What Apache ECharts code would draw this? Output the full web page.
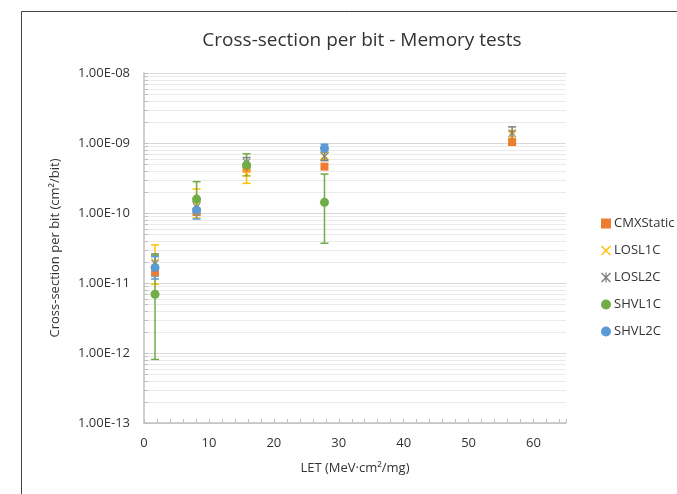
<!DOCTYPE html>
<html lang="en">
<head>
    <meta charset="UTF-8">
    <title>Cross-section per bit - Memory tests</title>
    <script src="https://cdn.jsdelivr.net/npm/echarts@6/dist/echarts.min.js"></script>
    <style>
        html, body { margin: 0; padding: 0; background: #fff; }
        #main { width: 677px; height: 494px; }
    </style>
</head>
<body>
    <div id="main"></div>
    <script>
        // LET of each ion run (x axis)
        var letValues = [1.7, 8.1, 15.8, 27.8, 56.7];

        // cross-section per bit, with low / high error bounds
        var cmxStatic = [1.45e-11, 1.05e-10, 4.3e-10, 4.6e-10, 1.03e-9];

        var losl1c = [2.0e-11, 1.3e-10, 3.7e-10, 6.6e-10, 1.3e-9];
        var losl1cLow = [9.6e-12, 8.5e-11, 2.65e-10, 5.8e-10, 1.1e-9];
        var losl1cHigh = [3.5e-11, 2.2e-10, 4.9e-10, 7.4e-10, 1.5e-9];

        var losl2c = [1.9e-11, 1.22e-10, 5.3e-10, 6.4e-10, 1.38e-9];
        var losl2cLow = [1.26e-11, 1.0e-10, 4.5e-10, 5.6e-10, 1.15e-9];
        var losl2cHigh = [2.6e-11, 1.45e-10, 6.2e-10, 7.3e-10, 1.7e-9];

        var shvl1c = [6.9e-12, 1.58e-10, 4.85e-10, 1.42e-10, null];
        var shvl1cLow = [8.1e-13, 9.3e-11, 3.4e-10, 3.7e-11, null];
        var shvl1cHigh = [2.5e-11, 2.8e-10, 7.0e-10, 3.6e-10, null];

        var shvl2c = [1.66e-11, 1.1e-10, null, 8.4e-10, null];
        var shvl2cLow = [1.14e-11, 8.2e-11, null, 7.4e-10, null];
        var shvl2cHigh = [2.38e-11, 1.45e-10, null, 9.6e-10, null];

        // log axis minor grid: 2..9 x 10^n
        var decades = [-13, -12, -11, -10, -9];
        var minorSteps = [2, 3, 4, 5, 6, 7, 8, 9];

        var colors = ['#ED7D31', '#FFC000', '#7F7F7F', '#70AD47', '#5B9BD5'];

        var crossPath = 'path://M0,1 L1,0 L5,4 L9,0 L10,1 L6,5 L10,9 L9,10 L5,6 L1,10 L0,9 L4,5 Z';
        var starPath = 'path://M0,1 L1,0 L5,4 L9,0 L10,1 L6,5 L10,9 L9,10 L5,6 L1,10 L0,9 L4,5 Z M4.4,0 L5.6,0 L5.6,10 L4.4,10 Z';

        var minorValues = [];
        decades.forEach(function (d) {
            minorSteps.forEach(function (m) {
                minorValues.push([0, m * Math.pow(10, d)]);
            });
        });

        function points(vals) {
            var out = [];
            for (var i = 0; i < vals.length; i++) {
                if (vals[i] != null) out.push([letValues[i], vals[i]]);
            }
            return out;
        }

        function bars(lo, hi) {
            var out = [];
            for (var i = 0; i < lo.length; i++) {
                if (lo[i] != null) out.push([letValues[i], lo[i], hi[i]]);
            }
            return out;
        }

        function errorSeries(name, lo, hi, color) {
            return {
                name: name + ' err',
                type: 'custom',
                z: 2,
                silent: true,
                data: bars(lo, hi),
                encode: { x: 0, y: [1, 2] },
                renderItem: function (params, api) {
                    var x = api.value(0);
                    var a = api.coord([x, api.value(1)]);
                    var b = api.coord([x, api.value(2)]);
                    var w = 4;
                    var st = { stroke: color, lineWidth: 1.5 };
                    return {
                        type: 'group',
                        children: [
                            { type: 'line', shape: { x1: a[0], y1: a[1], x2: b[0], y2: b[1] }, style: st },
                            { type: 'line', shape: { x1: a[0] - w, y1: a[1], x2: a[0] + w, y2: a[1] }, style: st },
                            { type: 'line', shape: { x1: b[0] - w, y1: b[1], x2: b[0] + w, y2: b[1] }, style: st }
                        ]
                    };
                }
            };
        }

        function expLabel(v) {
            var parts = v.toExponential(2).toUpperCase().split('E');
            var e = parseInt(parts[1], 10);
            var sign = e < 0 ? '-' : '+';
            var digits = String(Math.abs(e));
            if (digits.length < 2) digits = '0' + digits;
            return parts[0] + 'E' + sign + digits;
        }

        var myChart = echarts.init(document.getElementById('main'));

        var font = 'Open Sans';

        var option = {
            animation: false,
            backgroundColor: '#fff',
            textStyle: { fontFamily: font },
            graphic: [{
                type: 'rect',
                silent: true,
                shape: { x: 21.5, y: 11.5, width: 700, height: 600 },
                style: { fill: 'none', stroke: '#444', lineWidth: 1 }
            }],
            title: {
                text: 'Cross-section per bit - Memory tests',
                left: 357,
                textAlign: 'center',
                top: 26,
                textStyle: { fontFamily: font, fontSize: 19, fontWeight: 'normal', color: '#333' }
            },
            legend: {
                orient: 'vertical',
                left: 596,
                top: 212,
                itemWidth: 10,
                itemHeight: 10,
                itemGap: 14,
                textStyle: { fontFamily: font, fontSize: 13, color: '#333', padding: [0, 0, 0, -2] },
                data: [
                    { name: 'CMXStatic', icon: 'rect' },
                    { name: 'LOSL1C', icon: crossPath },
                    { name: 'LOSL2C', icon: starPath },
                    { name: 'SHVL1C', icon: 'circle' },
                    { name: 'SHVL2C', icon: 'circle' }
                ]
            },
            grid: { left: 144, top: 73, right: 111, bottom: 71 },
            xAxis: {
                type: 'value',
                min: 0,
                max: 65,
                interval: 10,
                name: 'LET (MeV·cm²/mg)',
                nameLocation: 'middle',
                nameGap: 39,
                nameTextStyle: { fontFamily: font, fontSize: 13, color: '#333' },
                axisLine: { lineStyle: { color: '#BFBFBF', width: 1.5 } },
                axisTick: { show: true, inside: true, length: 4, lineStyle: { color: '#BFBFBF' } },
                minorTick: { show: true, splitNumber: 5, length: 4, lineStyle: { color: '#BFBFBF' } },
                axisLabel: { fontFamily: font, fontSize: 13, color: '#333', margin: 14, showMaxLabel: false },
                splitLine: { show: false }
            },
            yAxis: {
                type: 'log',
                logBase: 10,
                min: 1e-13,
                max: 1e-8,
                name: 'Cross-section per bit (cm²/bit)',
                nameLocation: 'middle',
                nameGap: 82,
                nameTextStyle: { fontFamily: font, fontSize: 13, color: '#333' },
                axisLine: { show: true, lineStyle: { color: '#BFBFBF', width: 1.5 } },
                axisTick: { show: true, inside: true, length: 4, lineStyle: { color: '#BFBFBF' } },
                axisLabel: { fontFamily: font, fontSize: 13, color: '#333', margin: 14, formatter: expLabel },
                splitLine: { show: true, lineStyle: { color: '#D9D9D9', width: 1.2 } }
            },
            series: [
                {
                    // minor grid lines and ticks of the log axis
                    name: 'minor grid',
                    type: 'custom',
                    z: 1,
                    silent: true,
                    clip: false,
                    data: minorValues,
                    encode: { x: 0, y: 1 },
                    renderItem: function (params, api) {
                        var cs = params.coordSys;
                        var y = Math.round(api.coord([0, api.value(1)])[1]) + 0.5;
                        return {
                            type: 'group',
                            children: [
                                { type: 'line', shape: { x1: cs.x, y1: y, x2: cs.x + cs.width, y2: y },
                                  style: { stroke: '#EBEBEB', lineWidth: 1 } },
                                { type: 'line', shape: { x1: cs.x, y1: y, x2: cs.x + 4, y2: y },
                                  style: { stroke: '#BFBFBF', lineWidth: 1 } }
                            ]
                        };
                    }
                },
                {
                    name: 'CMXStatic', type: 'scatter', z: 3, symbol: 'rect', symbolSize: 8,
                    itemStyle: { color: colors[0], opacity: 1 }, data: points(cmxStatic)
                },
                errorSeries('LOSL1C', losl1cLow, losl1cHigh, colors[1]),
                {
                    name: 'LOSL1C', type: 'scatter', z: 3, symbol: crossPath, symbolSize: 8,
                    itemStyle: { color: colors[1], opacity: 1 }, data: points(losl1c)
                },
                errorSeries('LOSL2C', losl2cLow, losl2cHigh, colors[2]),
                {
                    name: 'LOSL2C', type: 'scatter', z: 3, symbol: starPath, symbolSize: 8,
                    itemStyle: { color: colors[2], opacity: 1 }, data: points(losl2c)
                },
                errorSeries('SHVL1C', shvl1cLow, shvl1cHigh, colors[3]),
                {
                    name: 'SHVL1C', type: 'scatter', z: 3, symbol: 'circle', symbolSize: 9,
                    itemStyle: { color: colors[3], opacity: 1 }, data: points(shvl1c)
                },
                errorSeries('SHVL2C', shvl2cLow, shvl2cHigh, colors[4]),
                {
                    name: 'SHVL2C', type: 'scatter', z: 3, symbol: 'circle', symbolSize: 9,
                    itemStyle: { color: colors[4], opacity: 1 }, data: points(shvl2c)
                }
            ]
        };

        myChart.setOption(option);
    </script>
</body>
</html>
